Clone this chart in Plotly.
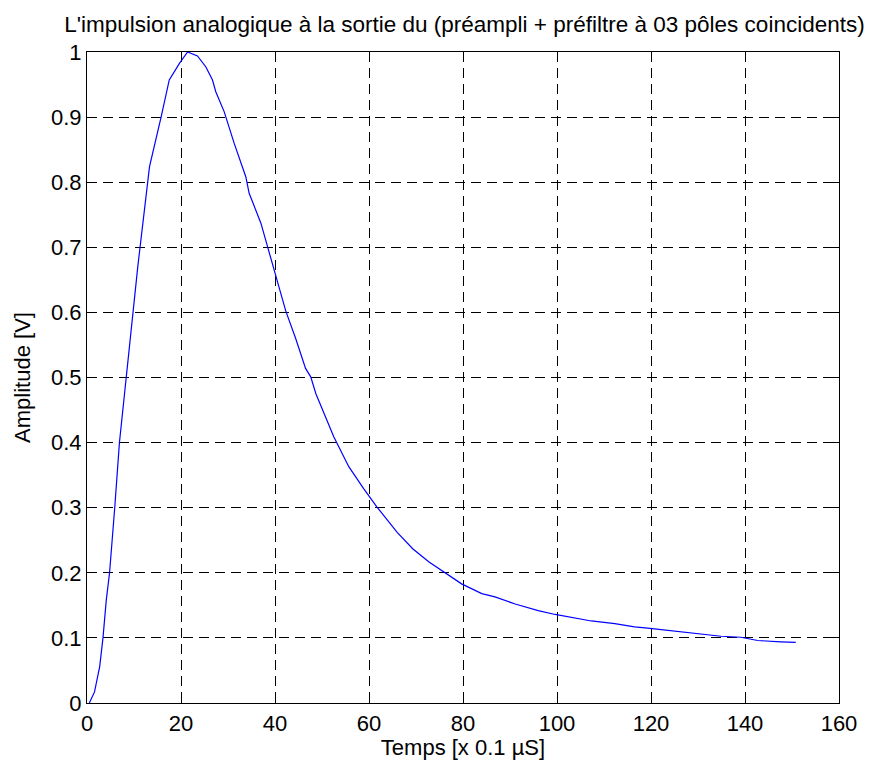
import plotly.graph_objects as go

temps = [0.5, 1.6, 2.7, 3.4, 4.1, 4.8, 5.9, 6.9, 10.8, 11.5, 13.3, 15.8, 17.5, 19.7,
         21.4, 23.5, 25.3, 26.7, 27.4, 29.2, 31.3, 33.8, 34.5, 37.0, 38.0, 39.4, 40.9,
         42.3, 44.4, 46.5, 47.6, 48.7, 52.5, 55.7, 58.9, 61.7, 66.0, 69.3,
         72.7, 75.5, 79.7, 84.0, 86.8, 91.1, 96.0, 99.6, 102.7, 107.3, 112.3, 116.5,
         119.3, 122.9, 127.1, 131.4, 134.9, 139.1, 142.7, 147.6, 150.8]
amplitude = [0.0, 0.017, 0.056, 0.100, 0.158, 0.200, 0.300, 0.400, 0.670, 0.716,
             0.824, 0.901, 0.957, 0.983, 1.000, 0.994, 0.977, 0.957, 0.939, 0.908, 0.860,
             0.808, 0.783, 0.737, 0.711, 0.675, 0.639, 0.602, 0.560, 0.514, 0.501,
             0.475, 0.409, 0.363, 0.329, 0.301, 0.262, 0.237, 0.217, 0.203, 0.183,
             0.168, 0.163, 0.152, 0.142, 0.136, 0.132, 0.126, 0.122, 0.117, 0.115, 0.112,
             0.108, 0.105, 0.1025, 0.101, 0.096, 0.094, 0.093]

x_ticks = [0, 20, 40, 60, 80, 100, 120, 140, 160]
y_ticks = [0, 0.1, 0.2, 0.3, 0.4, 0.5, 0.6, 0.7, 0.8, 0.9, 1]
y_ticklabels = ["0", "0.1", "0.2", "0.3", "0.4", "0.5", "0.6", "0.7", "0.8", "0.9", "1"]

title = "L'impulsion analogique à la sortie du (préampli + préfiltre à 03 pôles coincidents)"
xlabel = "Temps [x 0.1 µS]"
ylabel = "Amplitude [V]"

font = "Arial, Liberation Sans, sans-serif"

fig = go.Figure()
fig.add_trace(go.Scatter(x=temps, y=amplitude, mode="lines",
                         line=dict(color="#0000ff", width=1.2), showlegend=False))

axis_common = dict(
    showline=True, linecolor="black", linewidth=1.2, mirror="ticks",
    ticks="inside", ticklen=8, tickwidth=1, tickcolor="black",
    showgrid=True, gridcolor="black", gridwidth=1, griddash="10px,6px",
    zeroline=False, tickfont=dict(family=font, size=22, color="black"),
)

fig.update_xaxes(range=[0, 160], tickvals=x_ticks, ticktext=[str(v) for v in x_ticks],
                 title=dict(text=xlabel, font=dict(family=font, size=22, color="black"),
                            standoff=4),
                 **axis_common)
fig.update_yaxes(range=[0, 1], tickvals=y_ticks, ticktext=y_ticklabels,
                 title=dict(text=ylabel, font=dict(family=font, size=22, color="black"),
                            standoff=14),
                 **axis_common)

fig.update_layout(
    width=869, height=769,
    margin=dict(l=87, r=27, t=52, b=66),
    paper_bgcolor="white", plot_bgcolor="white",
    title=dict(text=title, x=0.5 * (87 + 842) / 869, xanchor="center",
               y=1 - 24 / 769, yanchor="middle",
               font=dict(family=font, size=22.5, color="black")),
)

fig.write_html("out.html")
